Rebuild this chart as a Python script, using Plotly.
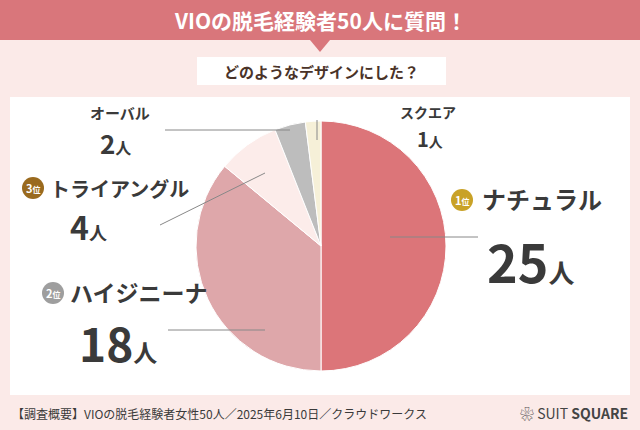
import plotly.graph_objects as go

labels = ["ナチュラル", "ハイジニーナ", "トライアングル", "オーバル", "スクエア"]
values = [25, 18, 4, 2, 1]
colors = ["#dc7579", "#dea7aa", "#fcecea", "#bdbdbd", "#f6f0d8"]

W, H = 640, 430
FONT = "Noto Sans CJK JP"
TXT = "#3a3a3a"


def px(x):
    return x / W


def py(y):
    return 1 - y / H


fig = go.Figure(go.Pie(
    labels=labels, values=values, sort=False, direction="clockwise", rotation=0,
    marker=dict(colors=colors, line=dict(color="white", width=1)),
    textinfo="none", hoverinfo="label+value",
    domain=dict(x=[px(321 - 125), px(321 + 125)], y=[py(246 + 125), py(246 - 125)]),
))

shapes = [
    dict(type="rect", x0=0, x1=1, y0=py(40), y1=1, fillcolor="#d9767b", line_width=0, layer="below"),
    dict(type="path", path=f"M {px(310)} {py(40)} L {px(330)} {py(40)} L {px(320)} {py(52)} Z",
         fillcolor="#d9767b", line_width=0),
    dict(type="rect", x0=px(197), x1=px(446), y0=py(85), y1=py(57), fillcolor="white", line_width=0, layer="below"),
    dict(type="rect", x0=px(10), x1=px(630), y0=py(395), y1=py(97), fillcolor="white", line_width=0, layer="below"),
]
lines = [((390, 237), (478, 237)), ((265, 330), (168, 330)), ((265, 173), (160, 225)),
         ((290, 130), (165, 130)), ((317, 140), (317, 120))]
for (x0, y0), (x1, y1) in lines:
    shapes.append(dict(type="line", x0=px(x0), y0=py(y0), x1=px(x1), y1=py(y1),
                       line=dict(color="#888", width=1)))
badges = [(462, 200, "#c9a227", "1"), (53, 293, "#9e9e9e", "2"), (33, 188, "#9a6a1e", "3")]
for bx, by, c, _ in badges:
    shapes.append(dict(type="circle", x0=px(bx - 11), x1=px(bx + 11), y0=py(by + 11), y1=py(by - 11),
                       fillcolor=c, line_width=0))

ann = []


def text(x, y, s, size, color=TXT, anchor="left", bold=True):
    ann.append(dict(x=px(x), y=py(y), text=f"<b>{s}</b>" if bold else s, showarrow=False,
                    xanchor=anchor, yanchor="middle", font=dict(family=FONT, size=size, color=color)))


text(320, 20, "VIOの脱毛経験者50人に質問！", 21, "white", "center")
text(321, 71, "どのようなデザインにした？", 15, "#4a3328", "center")
for bx, by, _, n in badges:
    text(bx, by, f"{n}<span style='font-size:8px'>位</span>", 11, "white", "center")

text(480, 198, "ナチュラル", 24)
text(485, 260, "25<span style='font-size:26px'>人</span>", 52)
text(68, 292, "ハイジニーナ", 23)
text(77, 342, "18<span style='font-size:24px'>人</span>", 46)
text(48, 188, "トライアングル", 20)
text(68, 226, "4<span style='font-size:18px'>人</span>", 32)
text(88, 112, "オーバル", 15)
text(98, 142, "2<span style='font-size:16px'>人</span>", 26)
text(398, 112, "スクエア", 14)
text(415, 138, "1<span style='font-size:14px'>人</span>", 20)
text(10, 413, "【調査概要】VIOの脱毛経験者女性50人／2025年6月10日／クラウドワークス", 12, TXT, bold=False)
text(630, 413, "❀ SUIT <b>SQUARE</b>", 14, "#444", "right", bold=False)

fig.update_layout(width=W, height=H, margin=dict(l=0, r=0, t=0, b=0), showlegend=False,
                  paper_bgcolor="#fbeae8", plot_bgcolor="#fbeae8", shapes=shapes, annotations=ann)
fig.write_html("out.html", config={"displayModeBar": False},
               post_script="document.body.style.margin='0';")
